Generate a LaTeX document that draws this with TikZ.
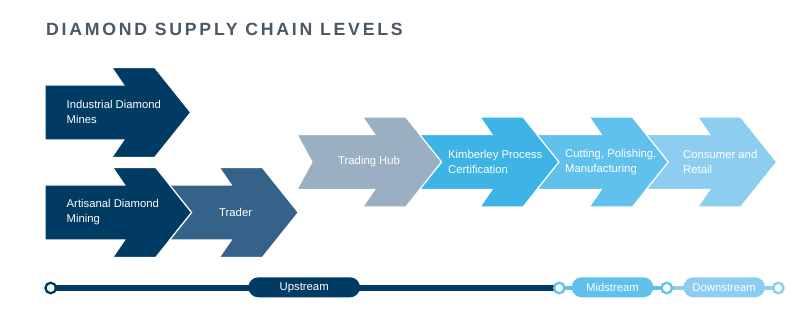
\documentclass[tikz,border=0pt]{standalone}
\usepackage{fontspec}
\setmainfont{Liberation Sans}
\newfontfamily\titlefont[LetterSpace=15.5]{Liberation Sans}
\definecolor{navy}{RGB}{0,59,99}
\definecolor{trader}{RGB}{52,98,137}
\definecolor{hub}{RGB}{154,176,194}
\definecolor{kim}{RGB}{61,180,229}
\definecolor{cut}{RGB}{96,193,237}
\definecolor{cons}{RGB}{141,206,240}
\definecolor{titlegray}{RGB}{74,88,102}
\newcommand\arrowshape[5]{% #1 colour, #2 tail x, #3 notch x, #4 tip x, #5 centre y
  \filldraw[fill=#1, draw=white, line width=1.1pt, line join=miter]
  (#2,#5-27.5) -- (#3,#5) -- (#2,#5+27.5) -- (#4-67,#5+27.5) -- (#4-79,#5+45)
  -- (#4-36,#5+45) -- (#4,#5) -- (#4-36,#5-45) -- (#4-79,#5-45) -- (#4-67,#5-27.5) -- cycle;}
\tikzset{
  lbl/.style={anchor=west, inner sep=0pt, text=white, align=left,
    font=\fontsize{11.3}{14.5}\selectfont},
  pill/.style={rounded corners=10pt, minimum height=20pt, inner sep=0pt,
    text=white, font=\fontsize{11.3}{13}\selectfont},
  dot/.style={circle, draw=#1, fill=white, line width=2.3pt, minimum size=10.5pt, inner sep=0pt},
}
\begin{document}
\begin{tikzpicture}[x=1pt,y=-1pt]
\useasboundingbox (0,0) rectangle (801,315);
% title
\node[anchor=base west, inner sep=0pt, text=titlegray] (title) at (46,36)
  {\titlefont\bfseries\fontsize{17.7}{20}\selectfont DIAMOND SUPPLY CHAIN LEVELS};
% arrows
\arrowshape{navy}{45}{45}{190.7}{112.5}
\arrowshape{navy}{45}{45}{191.7}{212.5}
\arrowshape{trader}{169.7}{191.7}{298.3}{212.5}
\arrowshape{hub}{297}{312}{441.7}{162}
\arrowshape{kim}{419.7}{441.7}{559}{162}
\arrowshape{cut}{537}{559}{668.3}{162}
\arrowshape{cons}{646.3}{668.3}{776.7}{162}
% labels
\node[lbl] (mines) at (66.5,112) {Industrial Diamond\\Mines};
\node[lbl] (artisanal) at (66.5,212) {Artisanal Diamond\\Mining};
\node[lbl] (trad) at (219,212) {Trader};
\node[lbl] (hubl) at (338,162) {Trading Hub};
\node[lbl] (kiml) at (448,162) {Kimberley Process\\Certification};
\node[lbl] (cutl) at (565,162) {Cutting, Polishing,\\Manufacturing};
\node[lbl] (consl) at (683,162) {Consumer and\\Retail};
% timeline
\coordinate (c1) at (50.7,288);
\coordinate (c2) at (559.3,288);
\coordinate (c3) at (666.7,288);
\coordinate (c4) at (778.3,288);
\draw[navy, line width=5.5pt] (c1) -- (c2);
\draw[cut, line width=3.5pt] (c2) -- (c3);
\draw[cons, line width=3.5pt] (c3) -- (c4);
\node[pill, fill=navy, minimum width=111.7pt] (up) at (304.2,287.3) {Upstream};
\node[pill, fill=cut, minimum width=81.6pt] (mid) at (612.5,287.3) {Midstream};
\node[pill, fill=cons, minimum width=81.7pt] (down) at (724.2,287.3) {Downstream};
\node[dot=navy] (d1) at (c1) {};
\node[dot=cut] (d2) at (c2) {};
\node[dot=cut] (d3) at (c3) {};
\node[dot=cons] (d4) at (c4) {};
\end{tikzpicture}
\end{document}
